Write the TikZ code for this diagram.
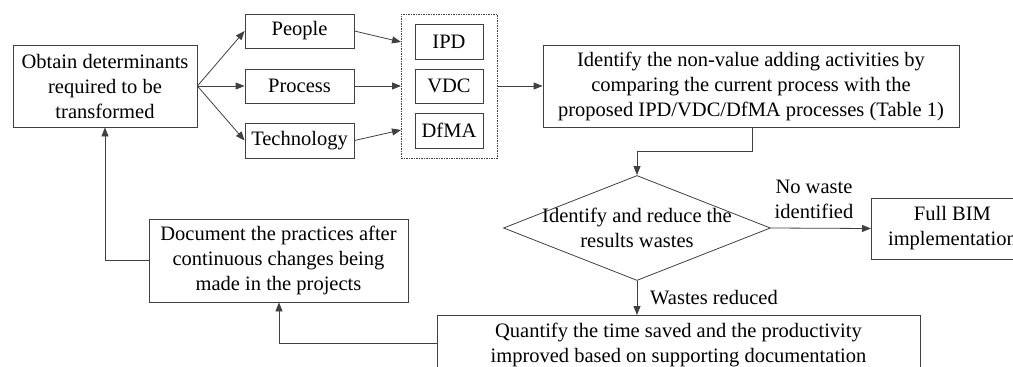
\documentclass[tikz,border=0pt]{standalone}
\usepackage{fontspec}
\setmainfont{Liberation Serif}
\usetikzlibrary{arrows.meta,shapes.geometric}
\begin{document}
\begin{tikzpicture}[x=1pt,y=-1pt,
  every node/.style={font=\fontsize{20.5}{25}\selectfont, text=black, inner sep=0pt},
  box/.style={draw=black!75, line width=0.8pt, align=center},
  conn/.style={draw=black!75, line width=0.8pt, -{Triangle[length=9pt,width=7pt]}},
  line/.style={draw=black!75, line width=0.8pt}]
\useasboundingbox (0,0) rectangle (1013,367);
\clip (0,0) rectangle (1013,367);
\node[box, minimum width=184pt, minimum height=82pt] (obtain) at (105,86) {Obtain determinants\\required to be\\transformed};
\node[box, minimum width=109pt, minimum height=34pt] (people) at (299.5,31) {People};
\node[box, minimum width=109pt, minimum height=34pt] (process) at (299.5,86) {Process};
\node[box, minimum width=109pt, minimum height=35pt] (tech) at (299.5,140.5) {Technology};
\node[draw=black!75, line width=0.6pt, dash pattern=on 1.5pt off 1pt, minimum width=96pt, minimum height=144pt] (grp) at (449,86) {};
\node[box, minimum width=68pt, minimum height=35pt] (ipd) at (449,41.5) {IPD};
\node[box, minimum width=68pt, minimum height=34pt] (vdc) at (449,86) {VDC};
\node[box, minimum width=68pt, minimum height=35pt] (dfma) at (449,130.5) {DfMA};
\node[box, minimum width=416pt, minimum height=82pt] (ident) at (751,86) {Identify the non-value adding activities by\\comparing the current process with the\\proposed IPD/VDC/DfMA processes (Table 1)};
\node[diamond, draw=black!75, line width=0.8pt, minimum width=267pt, minimum height=105pt, aspect=2.54, align=center] (dia) at (637,228) {};
\node[align=center] (diatext) at (637,228) {Identify and reduce the\\results wastes};
\node[box, minimum width=162pt, minimum height=61pt, anchor=west] (bim) at (871,228.5) {Full BIM\\implementation};
\node[box, minimum width=483pt, minimum height=60pt, anchor=north] (quant) at (678.5,315) {Quantify the time saved and the productivity\\improved based on supporting documentation};
\node[box, minimum width=259pt, minimum height=83pt] (doc) at (278.5,260.5) {Document the practices after\\continuous changes being\\made in the projects};
\node[align=center] (nowaste) at (814,199) {No waste\\identified};
\node (wred) at (714,298) {Wastes reduced};
\coordinate (gp) at (401,42);
\coordinate (gpr) at (401,86);
\coordinate (gt) at (401,130);
\draw[conn] (obtain.east) -- (people.west);
\draw[conn] (obtain.east) -- (process.west);
\draw[conn] (obtain.east) -- (tech.west);
\draw[conn] (people.east) -- (gp);
\draw[conn] (process.east) -- (gpr);
\draw[conn] (tech.east) -- (gt);
\draw[conn] (grp.east) -- (ident.west);
\coordinate (k1) at (752,151);
\coordinate (k2) at (637,151);
\draw[conn] (ident.south -| k1) -- (k1) -- (k2) -- (dia.north);
\draw[conn] (dia.east) -- (bim.west);
\draw[conn] (dia.south) -- (quant.north -| dia.south);
\coordinate (q1) at (279,343);
\draw[conn] (quant.west |- q1) -- (q1) -- (doc.south -| q1);
\coordinate (d1) at (105,260.5);
\draw[conn] (doc.west) -- (d1) -- (obtain.south);
\end{tikzpicture}
\end{document}
